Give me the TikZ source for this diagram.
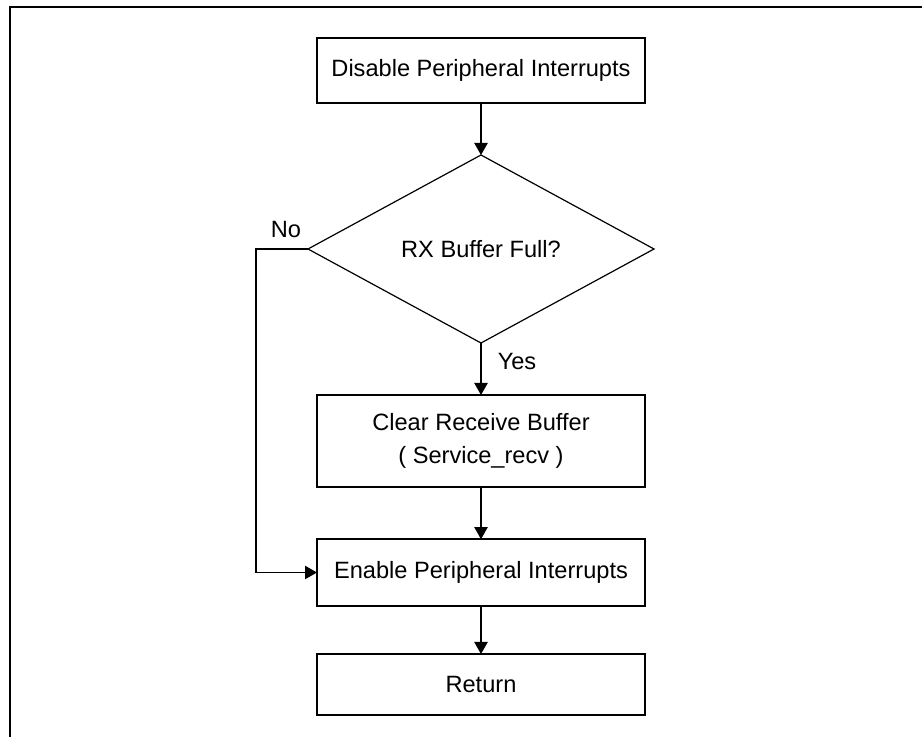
\documentclass[tikz,border=0pt]{standalone}
\usepackage{fontspec}
\setmainfont{Liberation Sans}
\usetikzlibrary{shapes.geometric,arrows.meta}

\begin{document}
\begin{tikzpicture}[x=0.75pt,y=-0.75pt,
  every node/.style={font=\fontsize{17.7pt}{24.5pt}\selectfont, align=center},
  procbox/.style={draw, line width=1.5pt, rectangle, minimum width=246pt, inner sep=0pt, outer sep=0pt},
  decision/.style={draw, line width=0.9pt, diamond, minimum width=259.5pt, minimum height=141pt, inner sep=0pt, outer sep=0pt},
  flow/.style={line width=0.9pt, -{Triangle[width=10pt,length=9pt]}},
  frameline/.style={line width=1.5pt}
]
  % page area
  \useasboundingbox (0,0) rectangle (922,737);
  \draw[frameline] (10,737) -- (10,7) -- (922,7);

  % steps
  \node[procbox, minimum height=48.75pt] (disable) at (481,70.5) {Disable Peripheral Interrupts};
  \node[decision] (full) at (481,249) {RX Buffer Full?};
  \node[procbox, minimum height=69pt] (clear) at (481,441) {Clear Receive Buffer\\( Service\_recv )};
  \node[procbox, minimum height=50pt] (enable) at (481,572.5) {Enable Peripheral Interrupts};
  \node[procbox, minimum height=45.75pt] (ret) at (481,684.5) {Return};

  % connectors
  \draw[flow] (disable) -- (full);
  \draw[flow] (full) -- (clear);
  \draw[flow] (clear) -- (enable);
  \draw[flow] (enable) -- (ret);
  \coordinate (bend) at (256,249);
  \draw[flow] (full.west) -- (bend) |- (enable.west);

  % branch labels
  \node (no) at (286,230) {No};
  \node (yes) at (517,362) {Yes};
\end{tikzpicture}
\end{document}
